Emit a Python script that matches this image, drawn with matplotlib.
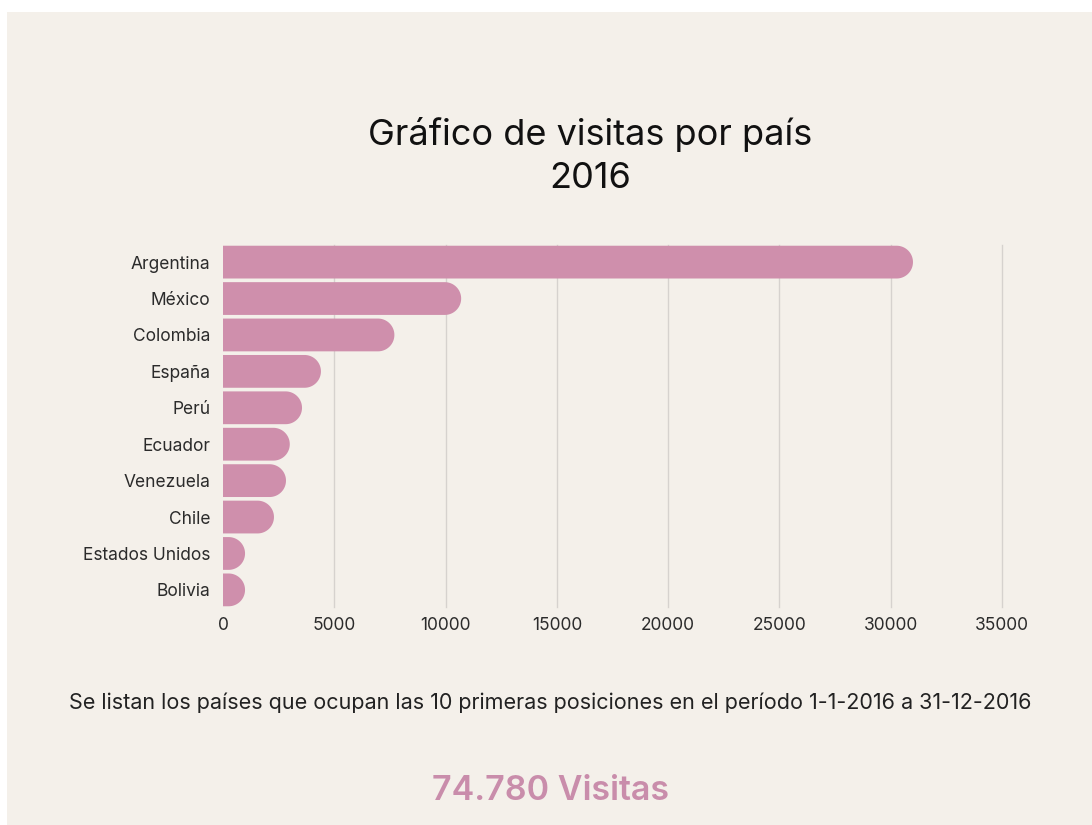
import matplotlib
matplotlib.use("Agg")
import matplotlib.pyplot as plt
from matplotlib.patches import Rectangle, Polygon
import numpy as np

countries = ["Argentina", "México", "Colombia", "España", "Perú", "Ecuador",
             "Venezuela", "Chile", "Estados Unidos", "Bolivia"]
visits = [31000, 10700, 7700, 4400, 3550, 3000, 2830, 2290, 990, 990]
xticks = [0, 5000, 10000, 15000, 20000, 25000, 30000, 35000]
title = "Gráfico de visitas por país\n2016"
subtitle = "Se listan los países que ocupan las 10 primeras posiciones en el período 1-1-2016 a 31-12-2016"
total_text = "74.780 Visitas"

BG = "#f4f0ea"
BAR = "#cf8fac"
FONT = ["Inter", "DejaVu Sans"]

W, H, DPI = 10.92, 8.25, 100
fig = plt.figure(figsize=(W, H), dpi=DPI, facecolor="white")
fig.patches.append(Rectangle((7 / 1092, 0), 1, 1 - 12 / 825, transform=fig.transFigure,
                             facecolor=BG, edgecolor="none", zorder=-10))

left, right = 223 / 1092, 1002 / 1092
top, bottom = 1 - 245 / 825, 1 - 607 / 825
ax = fig.add_axes([left, bottom, right - left, top - bottom])
ax.set_facecolor("none")

n = len(countries)
ax.set_xlim(0, 35000)
ax.set_ylim(n - 1 + 0.47, -0.47)

# pixel -> data scale for rounded ends
ax_w_px = (right - left) * W * DPI
ax_h_px = (top - bottom) * H * DPI
x_per_px = 35000 / ax_w_px
y_per_px = (n - 1 + 0.94) / ax_h_px

bh = 0.9
r_px = bh / 2 / y_per_px
r_x = r_px * x_per_px
t = np.linspace(-np.pi / 2, np.pi / 2, 60)
for i, v in enumerate(visits):
    xc = v - r_x
    arc_x = xc + r_x * np.cos(t)
    arc_y = i + (bh / 2) * np.sin(t)
    xs = np.concatenate([[0], arc_x, [0]])
    ys = np.concatenate([[i - bh / 2], arc_y, [i + bh / 2]])
    xs = np.clip(xs, 0, None)
    ax.add_patch(Polygon(np.column_stack([xs, ys]), closed=True,
                         facecolor=BAR, edgecolor="none", zorder=3))

ax.set_xticks(xticks)
ax.set_xticklabels([str(x) for x in xticks], fontsize=12.5, color="#2b2b2b", family=FONT)
ax.set_yticks(range(n))
ax.set_yticklabels(countries, fontsize=12.5, color="#2b2b2b", family=FONT)
ax.tick_params(axis="both", length=0)
ax.tick_params(axis="x", pad=7)
ax.tick_params(axis="y", pad=9)
for x in xticks[1:]:
    ax.axvline(x, color="#d6d2ce", lw=1.0, zorder=1, clip_on=False)
for s in ax.spines.values():
    s.set_visible(False)

fig.text(590 / 1092, 1 - 156 / 825, title, ha="center", va="center", fontsize=26,
         color="#111111", family=FONT, linespacing=1.4)
fig.text(550 / 1092, 1 - 703 / 825, subtitle, ha="center", va="center", fontsize=15.5,
         color="#222222", family=FONT)
fig.text(550 / 1092, 1 - 791 / 825, total_text, ha="center", va="center", fontsize=24.5,
         color="#c98dab", family=FONT, fontweight="semibold")

fig.savefig("out.png", dpi=DPI, facecolor=fig.get_facecolor())
